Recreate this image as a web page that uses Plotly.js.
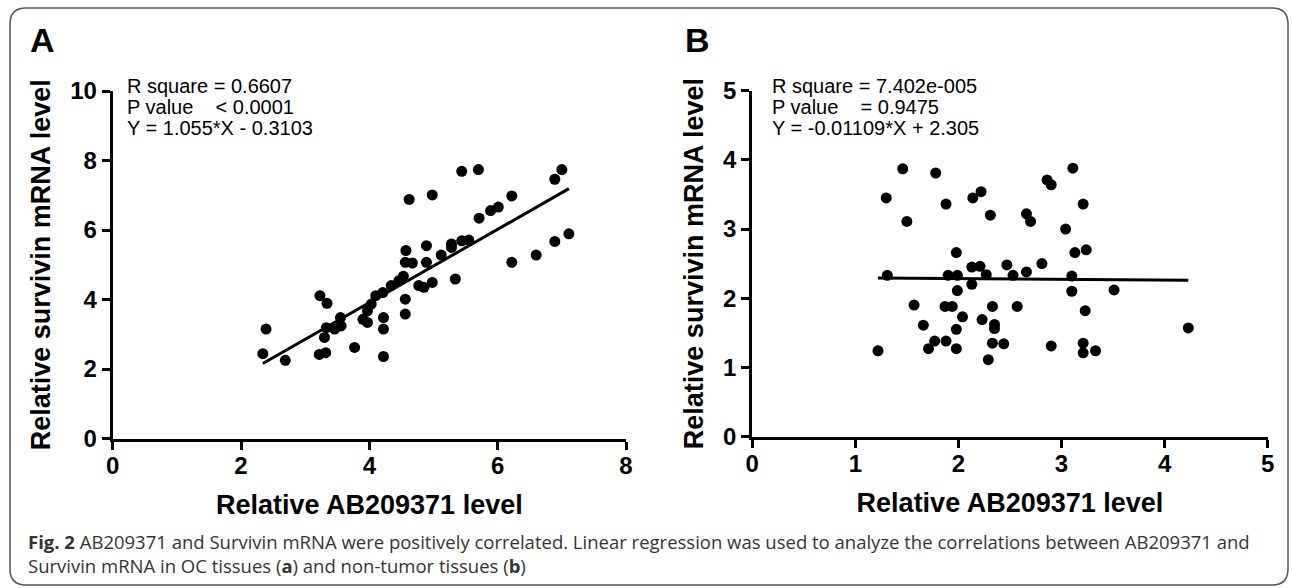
<!DOCTYPE html>
<html>
<head>
<meta charset="utf-8">
<script src="https://cdn.plot.ly/plotly-3.0.1.min.js"></script>
<style>html,body{margin:0;padding:0;background:#fff;}#chart{width:1292px;height:588px;}</style>
</head>
<body>
<div id="chart"></div>
<script>
// ---- Data: panel A (OC tissues) ----
const xA = [2.39,2.34,2.69,3.22,3.32,3.23,3.34,3.30,3.33,3.46,3.55,3.56,3.77,3.90,3.97,3.97,4.03,4.10,4.21,4.22,4.22,4.22,4.34,4.46,4.53,4.56,4.56,4.57,4.56,4.67,4.62,4.77,4.85,4.98,4.89,4.89,4.98,5.12,5.28,5.28,5.34,5.44,5.55,5.44,5.70,5.71,5.89,6.01,6.22,6.22,6.60,6.89,7.11,6.89,7.00];
const yA = [3.15,2.44,2.25,2.42,2.47,4.11,3.89,2.91,3.19,3.15,3.48,3.24,2.62,3.43,3.34,3.67,3.87,4.11,4.20,3.48,3.15,2.36,4.40,4.54,4.67,4.01,3.58,5.41,5.07,5.05,6.88,4.40,4.35,4.49,5.07,5.55,7.01,5.28,5.50,5.60,4.59,5.69,5.71,7.69,7.74,6.34,6.56,6.66,6.98,5.07,5.28,5.67,5.89,7.46,7.74];
const slopeA = 1.055, interceptA = -0.3103;

// ---- Data: panel B (non-tumor tissues) ----
const xB = [1.46,1.78,1.30,1.50,1.88,2.14,2.22,2.31,2.66,2.70,1.98,1.31,1.90,1.99,2.13,2.21,2.27,2.47,2.53,2.66,2.13,1.99,1.57,1.87,1.94,2.33,2.57,2.04,2.23,1.66,2.35,2.35,1.98,1.77,1.71,1.88,1.98,2.33,2.44,2.29,1.22,3.11,2.86,2.90,3.21,3.04,3.24,3.13,2.81,3.10,3.10,3.51,3.23,4.23,2.90,3.21,3.21,3.33];
const yB = [3.87,3.81,3.45,3.11,3.36,3.45,3.54,3.20,3.22,3.11,2.66,2.33,2.33,2.33,2.45,2.46,2.34,2.48,2.33,2.38,2.20,2.11,1.90,1.88,1.88,1.88,1.88,1.73,1.69,1.61,1.62,1.56,1.55,1.38,1.27,1.38,1.27,1.35,1.34,1.11,1.24,3.88,3.71,3.64,3.36,3.00,2.70,2.66,2.50,2.32,2.10,2.12,1.82,1.57,1.31,1.35,1.21,1.24];
const slopeB = -0.01109, interceptB = 2.305;

// ---- Text ----
const statsA = ["R square = 0.6607", "P value\u00A0\u00A0\u00A0 < 0.0001", "Y = 1.055*X - 0.3103"];
const statsB = ["R square = 7.402e-005", "P value\u00A0\u00A0\u00A0 = 0.9475", "Y = -0.01109*X + 2.305"];
const yTitle = "Relative survivin mRNA level";
const xTitle = "Relative AB209371 level";
const caption = "<b>Fig. 2</b> AB209371 and Survivin mRNA were positively correlated. Linear regression was used to analyze the correlations between AB209371 and<br>Survivin mRNA in OC tissues (<b>a</b>) and non-tumor tissues (<b>b</b>)";

const W = 1292, H = 588;
const px = v => v / W;
const py = v => 1 - v / H;

function fitLine(xs, m, b) {
  const lo = Math.min(...xs), hi = Math.max(...xs);
  return {x: [lo, hi], y: [m * lo + b, m * hi + b]};
}
const fA = fitLine(xA, slopeA, interceptA);
const fB = fitLine(xB, slopeB, interceptB);

const AX_FONT = {family: "Liberation Sans, Arial, sans-serif", size: 24, color: "#000", weight: "bold"};
const TITLE_FONT = {family: "Liberation Sans, Arial, sans-serif", size: 27, color: "#000", weight: "bold"};

function axisCommon(extra) {
  return Object.assign({
    showline: true, linecolor: "#000", linewidth: 3,
    ticks: "outside", ticklen: 8, tickwidth: 3, tickcolor: "#000",
    showgrid: false, zeroline: false, fixedrange: true,
    tickfont: AX_FONT
  }, extra);
}

const traces = [
  {x: xA, y: yA, type: "scatter", mode: "markers", xaxis: "x", yaxis: "y",
   marker: {color: "#000", size: 11}, hoverinfo: "skip", showlegend: false},
  {x: fA.x, y: fA.y, type: "scatter", mode: "lines", xaxis: "x", yaxis: "y",
   line: {color: "#000", width: 3}, hoverinfo: "skip", showlegend: false},
  {x: xB, y: yB, type: "scatter", mode: "markers", xaxis: "x2", yaxis: "y2",
   marker: {color: "#000", size: 11}, hoverinfo: "skip", showlegend: false},
  {x: fB.x, y: fB.y, type: "scatter", mode: "lines", xaxis: "x2", yaxis: "y2",
   line: {color: "#000", width: 3}, hoverinfo: "skip", showlegend: false}
];

const statFont = {family: "Liberation Sans, Arial, sans-serif", size: 20, color: "#000"};
const annotations = [];
const lineY = [86, 107, 128];
statsA.forEach((t, i) => annotations.push({xref: "paper", yref: "paper", x: px(125), y: py(lineY[i]),
  xanchor: "left", yanchor: "middle", text: t, showarrow: false, font: statFont}));
statsB.forEach((t, i) => annotations.push({xref: "paper", yref: "paper", x: px(770), y: py(lineY[i]),
  xanchor: "left", yanchor: "middle", text: t, showarrow: false, font: statFont}));
annotations.push({xref: "paper", yref: "paper", x: px(42), y: py(40), xanchor: "center", yanchor: "middle",
  text: "<b>A</b>", showarrow: false, font: {family: "Liberation Sans, Arial, sans-serif", size: 34, color: "#000"}});
annotations.push({xref: "paper", yref: "paper", x: px(697), y: py(40), xanchor: "center", yanchor: "middle",
  text: "<b>B</b>", showarrow: false, font: {family: "Liberation Sans, Arial, sans-serif", size: 34, color: "#000"}});
annotations.push({xref: "paper", yref: "paper", x: px(26), y: py(553), xanchor: "left", yanchor: "middle",
  align: "left", text: caption, showarrow: false,
  font: {family: "Open Sans, sans-serif", size: 18.5, color: "#333"}});

// rounded frame
const fx0 = 10, fy0 = 8, fx1 = 1288, fy1 = 585, r = 16;
const framePath = [
  `M ${px(fx0 + r)},${py(fy0)}`, `L ${px(fx1 - r)},${py(fy0)}`, `Q ${px(fx1)},${py(fy0)} ${px(fx1)},${py(fy0 + r)}`,
  `L ${px(fx1)},${py(fy1 - r)}`, `Q ${px(fx1)},${py(fy1)} ${px(fx1 - r)},${py(fy1)}`,
  `L ${px(fx0 + r)},${py(fy1)}`, `Q ${px(fx0)},${py(fy1)} ${px(fx0)},${py(fy1 - r)}`,
  `L ${px(fx0)},${py(fy0 + r)}`, `Q ${px(fx0)},${py(fy0)} ${px(fx0 + r)},${py(fy0)}`, "Z"
].join(" ");

const layout = {
  width: W, height: H,
  margin: {l: 0, r: 0, t: 0, b: 0},
  paper_bgcolor: "#fff", plot_bgcolor: "rgba(0,0,0,0)",
  showlegend: false,
  xaxis: axisCommon({domain: [px(112.7), px(626)], range: [0, 8], dtick: 2, tick0: 0, anchor: "y",
    ticklabelstandoff: -4, title: {text: xTitle, font: TITLE_FONT, standoff: 17}}),
  yaxis: axisCommon({domain: [py(438.5), py(91)], range: [0, 10], dtick: 2, tick0: 0, anchor: "x",
    title: {text: yTitle, font: TITLE_FONT, standoff: 12}}),
  xaxis2: axisCommon({domain: [px(752.2), px(1267.7)], range: [0, 5], dtick: 1, tick0: 0, anchor: "y2",
    ticklabelstandoff: -4, title: {text: xTitle, font: TITLE_FONT, standoff: 17}}),
  yaxis2: axisCommon({domain: [py(436.5), py(90.7)], range: [0, 5], dtick: 1, tick0: 0, anchor: "x2",
    title: {text: yTitle, font: TITLE_FONT, standoff: 12}}),
  annotations: annotations,
  shapes: [{type: "path", xref: "paper", yref: "paper", path: framePath,
    line: {color: "#555", width: 1.5}, fillcolor: "rgba(0,0,0,0)", layer: "below"}]
};

Plotly.newPlot("chart", traces, layout, {staticPlot: true, displayModeBar: false});
</script>
</body>
</html>
